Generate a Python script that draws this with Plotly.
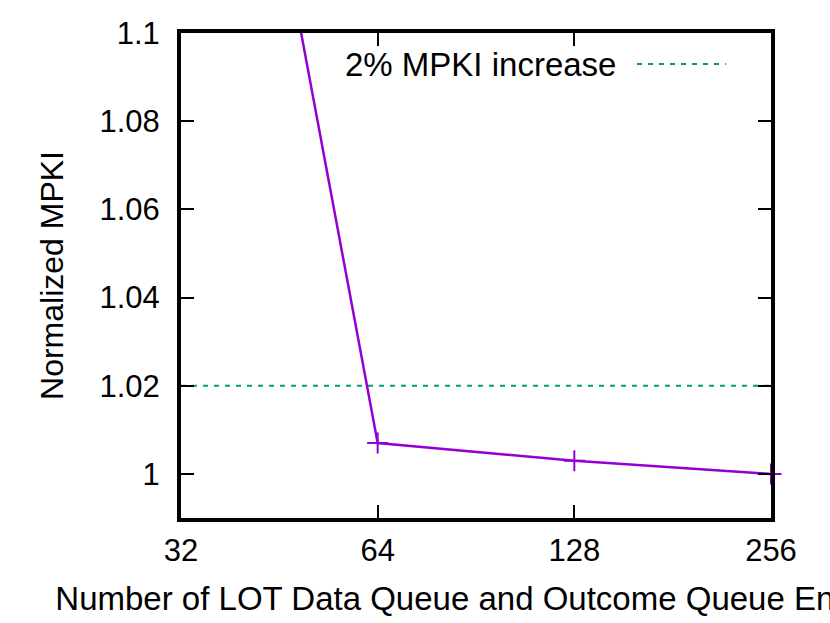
import plotly.graph_objects as go

# LOT queue entries vs normalized MPKI
entries = [32, 64, 128, 256]
mpki = [1.246, 1.007, 1.003, 1.000]

threshold_x = [32, 256]
threshold_y = [1.02, 1.02]
threshold_label = "2% MPKI increase"

y_ticks = [1.0, 1.02, 1.04, 1.06, 1.08, 1.1]
y_ticktext = ["1", "1.02", "1.04", "1.06", "1.08", "1.1"]
x_ticks = [32, 64, 128, 256]

purple = "#9400d3"
green = "#009e73"
font = "Liberation Sans, Arial, sans-serif"

fig = go.Figure()

fig.add_trace(go.Scatter(
	x=threshold_x, y=threshold_y, mode="lines",
	line=dict(color=green, width=2, dash="5px,6px"),
	showlegend=False
))

fig.add_trace(go.Scatter(
	x=entries, y=mpki, mode="lines+markers",
	line=dict(color=purple, width=2.5),
	marker=dict(symbol="cross-thin", size=15, line=dict(color=purple, width=2)),
	cliponaxis=False,
	showlegend=False
))

# gnuplot-style key: text then line sample
fig.add_annotation(
	x=0.7407, y=0.936, xref="paper", yref="paper",
	xanchor="right", yanchor="middle", showarrow=False,
	text=threshold_label, font=dict(family=font, size=33, color="black")
)
fig.add_shape(
	type="line", xref="paper", yref="paper",
	x0=0.7729, x1=0.9237, y0=0.936, y1=0.936,
	line=dict(color=green, width=2, dash="5px,6px")
)

fig.update_layout(
	width=830, height=623,
	margin=dict(l=181, r=59, t=33, b=105),
	plot_bgcolor="white", paper_bgcolor="white",
	font=dict(family=font, size=31, color="black"),
	xaxis=dict(
		type="log", range=[1.50515, 2.40824],
		tickvals=x_ticks, ticktext=[str(v) for v in x_ticks],
		ticks="inside", ticklen=13, tickwidth=2, tickcolor="black",
		showline=True, linewidth=4, linecolor="black", mirror="ticks",
		showgrid=False, zeroline=False, ticklabelstandoff=2,
		title=dict(text="Number of LOT Data Queue and Outcome Queue Entries",
			standoff=21, font=dict(size=33))
	),
	yaxis=dict(
		range=[0.99, 1.1],
		tickvals=y_ticks, ticktext=y_ticktext,
		ticks="inside", ticklen=13, tickwidth=2, tickcolor="black",
		showline=True, linewidth=4, linecolor="black", mirror="ticks",
		showgrid=False, zeroline=False, ticklabelstandoff=11,
		title=dict(text="Normalized MPKI", standoff=27, font=dict(size=32))
	)
)

fig.write_html("out.html", config={"displayModeBar": False},
	post_script="document.body.style.margin='0';")
